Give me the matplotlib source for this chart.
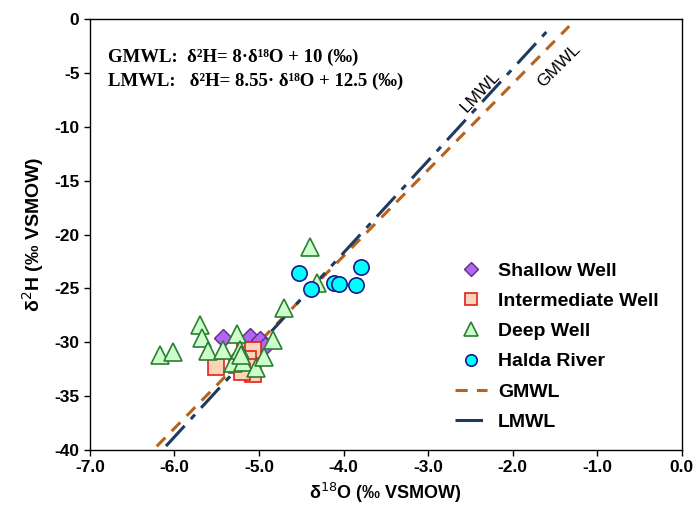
"Isotope plot: d2H vs d18O with GMWL and LMWL"

import numpy as np
import matplotlib
matplotlib.use("Agg")
import matplotlib.pyplot as plt

# sample values (d18O, d2H)
shallow_x = [-5.43, -5.11, -4.99, -4.93]
shallow_y = [-29.6, -29.5, -29.8, -30.4]

inter_x = [-5.51, -5.26, -5.17, -5.07, -5.13, -5.07, -5.11, -5.20]
inter_y = [-32.3, -32.1, -30.7, -30.7, -31.6, -33.0, -32.3, -32.8]

deep_x = [-6.17, -6.02, -5.70, -5.67, -5.60, -5.43, -5.26, -5.26, -5.31,
          -5.19, -5.04, -4.94, -4.83, -4.70, -4.40, -4.31, -5.22, -5.21]
deep_y = [-31.2, -30.9, -28.4, -29.6, -30.8, -30.7, -29.2, -31.4, -31.9,
          -31.8, -32.4, -31.4, -29.8, -26.8, -21.2, -24.5, -30.7, -31.2]

river_x = [-4.53, -4.39, -4.11, -4.05, -3.85, -3.79]
river_y = [-23.6, -25.1, -24.5, -24.6, -24.7, -23.0]

# meteoric water lines: slope, intercept, x range
gmwl = (8.0, 10.0, -6.21, -1.33)
lmwl = (8.55, 12.5, -6.10, -1.60)

plt.rcParams['font.family'] = ['Liberation Sans', 'DejaVu Sans']
plt.rcParams['axes.unicode_minus'] = False

fig, ax = plt.subplots(figsize=(6.97, 5.2), dpi=100)
fig.subplots_adjust(left=0.129, right=0.978, top=0.963, bottom=0.135)

# lines first so markers sit on top
gx = np.array([gmwl[2], gmwl[3]])
ax.plot(gx, gmwl[0]*gx + gmwl[1], color='#B8621B', lw=2.2,
        dashes=(4, 3), label='GMWL', zorder=2)
lx = np.array([lmwl[2], lmwl[3]])
ax.plot(lx, lmwl[0]*lx + lmwl[1], color='#1F3A60', lw=2.2,
        dashes=(9, 3, 2, 3), label='LMWL', zorder=2)

ax.plot(shallow_x, shallow_y, 'D', ms=9, mfc='#B266F0', mec='#5B2C8A', mew=1,
        label='Shallow Well', zorder=3)
ax.plot(inter_x, inter_y, 's', ms=11, mfc='#FBD5B8', mec='#E0201B', mew=1.2,
        label='Intermediate Well', zorder=4)
ax.plot(deep_x, deep_y, '^', ms=13, mfc='#CCFFCC', mec='#2E7D32', mew=1.2,
        label='Deep Well', zorder=5)
ax.plot(river_x, river_y, 'o', ms=11, mfc='#00FFFF', mec='#1A1A8C', mew=1.2,
        label='Halda River', zorder=6)

ax.set_xlim(-7, 0)
ax.set_ylim(-40, 0)
xt = np.arange(-7, 0.5, 1.0)
ax.set_xticks(xt)
ax.set_xticklabels([f"{v:.1f}" for v in xt])
ax.set_yticks(np.arange(-40, 1, 5))
ax.tick_params(direction='out', length=4, width=1, labelsize=12.5)
for lab in ax.get_xticklabels() + ax.get_yticklabels():
    lab.set_fontweight('bold')
for sp in ax.spines.values():
    sp.set_linewidth(1.0)

ax.set_xlabel('δ$^{18}$O (‰ VSMOW)', fontsize=13, fontweight='bold')
ax.set_ylabel('δ$^{2}$H (‰ VSMOW)', fontsize=14, fontweight='bold', labelpad=6)

serif = ['Liberation Serif', 'DejaVu Serif']
ax.text(0.03, 0.912, 'GMWL:  δ²H= 8·δ¹⁸O + 10 (‰)', transform=ax.transAxes,
        fontsize=13.5, fontweight='bold', family=serif, va='center')
ax.text(0.03, 0.856, 'LMWL:   δ²H= 8.55· δ¹⁸O + 12.5 (‰)', transform=ax.transAxes,
        fontsize=13.5, fontweight='bold', family=serif, va='center')

ax.text(-2.38, -6.7, 'LMWL', rotation=47, fontsize=12.5, ha='center', va='center')
ax.text(-1.45, -4.3, 'GMWL', rotation=45, fontsize=12.5, ha='center', va='center')

handles, labels = ax.get_legend_handles_labels()
order = [2, 3, 4, 5, 0, 1]
leg = ax.legend([handles[i] for i in order], [labels[i] for i in order],
                loc='upper left', bbox_to_anchor=(455/697, 1 - 262/520),
                bbox_transform=fig.transFigure, frameon=False,
                prop={'weight': 'bold', 'size': 14}, borderpad=0,
                borderaxespad=0, handlelength=1.65, handletextpad=0.55,
                labelspacing=0.65, markerscale=0.75)

fig.savefig('out.png', dpi=100)
